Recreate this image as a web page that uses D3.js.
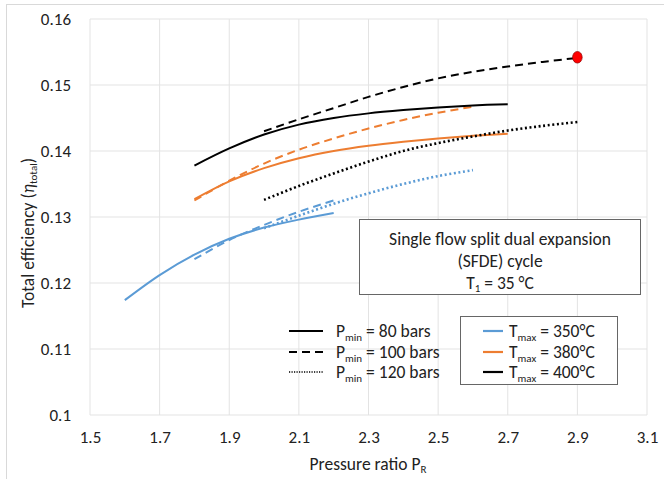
<!DOCTYPE html>
<html><head><meta charset="utf-8">
<script src="https://cdn.jsdelivr.net/npm/d3@7"></script>
<style>
body{margin:0;background:#fff;}
text{font-family:"Carlito","Lato","Liberation Sans",sans-serif;fill:#222;}
</style></head>
<body><svg id="c" width="664" height="479"></svg>
<script>
// ---- data ----
const xTicks = [1.5,1.7,1.9,2.1,2.3,2.5,2.7,2.9,3.1];
const yTicks = [0.1,0.11,0.12,0.13,0.14,0.15,0.16];
const yTickLabels = ["0.1","0.11","0.12","0.13","0.14","0.15","0.16"];

// Tmax = 350°C (blue)
const b80x  = [1.6,1.7,1.8,1.9,2.0,2.1,2.2];
const b80y  = [0.1174,0.1212,0.1243,0.1267,0.1284,0.1296,0.1306];
const b100x = [1.8,1.9,2.0,2.1,2.2];
const b100y = [0.1236,0.1265,0.1288,0.1308,0.1325];
const b120x = [2.0,2.1,2.2,2.3,2.4,2.5,2.6];
const b120y = [0.1283,0.1302,0.1320,0.1336,0.1350,0.1362,0.1371];
// Tmax = 380°C (orange)
const o80x  = [1.8,1.9,2.0,2.1,2.2,2.3,2.4,2.5,2.6,2.7];
const o80y  = [0.1327,0.1354,0.1374,0.1389,0.1400,0.1408,0.1414,0.1419,0.1423,0.1426];
const o100x = [1.8,1.9,2.0,2.1,2.2,2.3,2.4,2.5,2.6];
const o100y = [0.1325,0.1355,0.1381,0.1402,0.1419,0.1434,0.1447,0.1458,0.1467];
// Tmax = 400°C (black)
const k80x  = [1.8,1.9,2.0,2.1,2.2,2.3,2.4,2.5,2.6,2.7];
const k80y  = [0.1378,0.1404,0.1425,0.1440,0.1450,0.1457,0.1462,0.1466,0.1469,0.1471];
const k100x = [2.0,2.1,2.2,2.3,2.4,2.5,2.6,2.7,2.8,2.9];
const k100y = [0.1430,0.1448,0.1465,0.1482,0.1497,0.1510,0.1520,0.1528,0.1535,0.1541];
const k120x = [2.0,2.1,2.2,2.3,2.4,2.5,2.6,2.7,2.8,2.9];
const k120y = [0.1326,0.1347,0.1366,0.1384,0.1400,0.1412,0.1422,0.1431,0.1438,0.1444];
// optimum point
const optX = [2.9], optY = [0.1542];

const pLegend = ["80","100","120"];
const tLegend = ["350°C","380°C","400°C"];

// ---- drawing ----
const FONT='"Carlito","Lato","Liberation Sans",sans-serif';
const svg = d3.select("#c");
const L=90, R=647, T=19, B=415;
const x = d3.scaleLinear().domain([1.5,3.1]).range([L,R]);
const y = d3.scaleLinear().domain([0.1,0.16]).range([B,T]);
const BLUE="#5B9BD5", ORANGE="#ED7D31", BLACK="#000";
const DASH="8,5", DOT="2,2.6";

// outer frame
svg.append("rect").attr("x",6.5).attr("y",4.5).attr("width",700).attr("height",600)
  .attr("fill","none").attr("stroke","#d9d9d9");

// grid
const g = svg.append("g");
g.selectAll(".gx").data(xTicks).join("line")
 .attr("x1",d=>x(d)).attr("x2",d=>x(d)).attr("y1",T).attr("y2",B)
 .attr("stroke","#e3e3e3").attr("stroke-width",1);
g.selectAll(".gy").data(yTicks).join("line")
 .attr("x1",L).attr("x2",R).attr("y1",d=>y(d)).attr("y2",d=>y(d))
 .attr("stroke","#e3e3e3").attr("stroke-width",1);

// axes via d3 axis (labels only)
const ax = svg.append("g").attr("transform",`translate(0,${B+13})`)
 .call(d3.axisBottom(x).tickValues(xTicks).tickSize(0).tickFormat(d3.format(".1f")));
ax.select(".domain").remove();
ax.selectAll("text").attr("font-size",17).attr("fill","#222").style("font-family",FONT);
const ay = svg.append("g").attr("transform",`translate(${L-16},0)`)
 .call(d3.axisLeft(y).tickValues(yTicks).tickSize(0).tickFormat((d,i)=>yTickLabels[i]));
ay.select(".domain").remove();
ay.selectAll("text").attr("font-size",17).attr("fill","#222").style("font-family",FONT);

// series
const line = d3.line().x(d=>x(d[0])).y(d=>y(d[1])).curve(d3.curveCatmullRom.alpha(0.5));
function series(xs,ys,color,dash){
  svg.append("path").datum(xs.map((v,i)=>[v,ys[i]]))
    .attr("d",line).attr("fill","none").attr("stroke",color)
    .attr("stroke-width",dash===DOT?2.6:2).attr("stroke-dasharray",dash)
    .attr("stroke-linecap","butt");
}
series(b80x,b80y,BLUE,null);
series(b100x,b100y,BLUE,DASH);
series(b120x,b120y,BLUE,DOT);
series(o80x,o80y,ORANGE,null);
series(o100x,o100y,ORANGE,DASH);
series(k80x,k80y,BLACK,null);
series(k100x,k100y,BLACK,DASH);
series(k120x,k120y,BLACK,DOT);

svg.selectAll(".opt").data(optX).join("ellipse")
 .attr("cx",d=>x(d)).attr("cy",(d,i)=>y(optY[i])).attr("rx",4.8).attr("ry",5.8)
 .attr("fill","#ff0000").attr("stroke","#8b0000").attr("stroke-width",0.7);

// annotation box
svg.append("rect").attr("x",359.5).attr("y",219.5).attr("width",281).attr("height",75)
 .attr("fill","#fff").attr("stroke","#666").attr("stroke-width",1);
const ann = svg.append("text").attr("x",500).attr("text-anchor","middle").attr("font-size",17.5);
ann.append("tspan").attr("x",500).attr("y",245).text("Single flow split dual expansion");
ann.append("tspan").attr("x",500).attr("y",267).text("(SFDE) cycle");
ann.append("tspan").attr("x",500).attr("y",289).text("T");
ann.append("tspan").attr("font-size",11).attr("dy",3).text("1");
ann.append("tspan").attr("dy",-3).text(" = 35 °C");

// legend 1 (line styles)
const rowsY=[331,352,372];
const styles=[null,DASH,DOT];
pLegend.forEach((p,i)=>{
  svg.append("line").attr("x1",289).attr("x2",323).attr("y1",rowsY[i]).attr("y2",rowsY[i])
   .attr("stroke","#000").attr("stroke-width",i===2?1.5:2.2).attr("stroke-dasharray",i===2?"1.2,1.3":styles[i]);
  const t=svg.append("text").attr("x",336).attr("y",rowsY[i]+6).attr("font-size",17.5);
  t.append("tspan").text("P");
  t.append("tspan").attr("font-size",11).attr("dy",4).text("min");
  t.append("tspan").attr("dy",-4).text(" = "+p+" bars");
});

// legend 2 (colours)
svg.append("rect").attr("x",460.5).attr("y",316.5).attr("width",157).attr("height",68)
 .attr("fill","#fff").attr("stroke","#666");
const cols=[BLUE,ORANGE,BLACK];
tLegend.forEach((tl,i)=>{
  svg.append("line").attr("x1",483).attr("x2",503).attr("y1",rowsY[i]).attr("y2",rowsY[i])
   .attr("stroke",cols[i]).attr("stroke-width",2.2);
  const t=svg.append("text").attr("x",509).attr("y",rowsY[i]+6).attr("font-size",17.5);
  t.append("tspan").text("T");
  t.append("tspan").attr("font-size",11).attr("dy",4).text("max");
  t.append("tspan").attr("dy",-4).text(" = "+tl);
});

// axis titles
const xt = svg.append("text").attr("x",368).attr("y",470).attr("text-anchor","middle").attr("font-size",17.5);
xt.append("tspan").text("Pressure ratio P");
xt.append("tspan").attr("font-size",11).attr("dy",3).text("R");

const yt = svg.append("text").attr("transform","translate(34,233) rotate(-90)")
 .attr("text-anchor","middle").attr("font-size",17.5);
yt.append("tspan").text("Total efficiency (");
yt.append("tspan").attr("font-style","italic").text("η");
yt.append("tspan").attr("font-size",11).attr("dy",3).text("total");
yt.append("tspan").attr("dy",-3).text(")");
</script></body></html>
